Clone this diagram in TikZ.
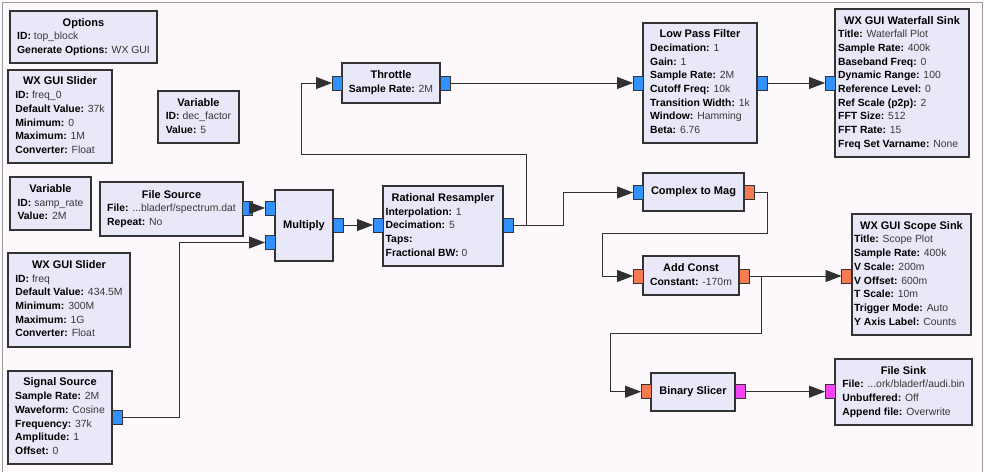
\documentclass[tikz,border=0pt]{standalone}
\usepackage{fontspec}
\setmainfont{Liberation Sans}
\usetikzlibrary{arrows.meta}
\definecolor{bgc}{HTML}{FCF8FC}
\definecolor{blkfill}{HTML}{E9E8F9}
\definecolor{bordc}{HTML}{333333}
\definecolor{wirec}{HTML}{303030}
\definecolor{valc}{HTML}{383838}
\definecolor{pblue}{HTML}{3391FF}
\definecolor{porange}{HTML}{F77A52}
\definecolor{pmag}{HTML}{F444F4}
\definecolor{framec}{HTML}{9A9A9A}
\newcommand{\kv}[2]{\textbf{#1:} {\color{valc}#2}}
\newcommand{\ttl}[1]{\multicolumn{1}{c}{\fontsize{11}{13.7}\selectfont\bfseries #1}}
\newcommand{\tb}[1]{\begin{tabular}{@{}l@{}}#1\end{tabular}}
\begin{document}
\begin{tikzpicture}[x=1pt,y=-1pt,
  blk/.style={draw=bordc,fill=blkfill,line width=1.1pt,inner sep=0pt,outer sep=0pt,anchor=north west,
    font=\fontsize{10.4}{13.7}\selectfont},
  port/.style={draw=bordc,line width=0.8pt,minimum width=10,minimum height=14,inner sep=0pt,outer sep=0pt},
  wire/.style={draw=wirec,line width=0.9pt,-{Triangle[length=16pt,width=12pt]}},
  frame/.style={draw=framec,line width=1pt}]
\fill[bgc] (0,0) rectangle (984,472);
\useasboundingbox (0,0) rectangle (984,472);
\draw[frame] (2.5,472) -- (2.5,2) -- (982,2) -- (982,472);

% blocks
\node[blk,minimum width=147,minimum height=52] (opt) at (10,11)
  {\tb{\ttl{Options}\\\kv{ID}{top\_block}\\\kv{Generate Options}{WX GUI}}};
\node[blk,minimum width=104,minimum height=93] (sl0) at (8,70)
  {\tb{\ttl{WX GUI Slider}\\\kv{ID}{freq\_0}\\\kv{Default Value}{37k}\\\kv{Minimum}{0}\\\kv{Maximum}{1M}\\\kv{Converter}{Float}}};
\node[blk,minimum width=81,minimum height=52] (vdec) at (158,91)
  {\tb{\ttl{Variable}\\\kv{ID}{dec\_factor}\\\kv{Value}{5}}};
\node[blk,minimum width=81,minimum height=53] (vsr) at (10,177)
  {\tb{\ttl{Variable}\\\kv{ID}{samp\_rate}\\\kv{Value}{2M}}};
\node[blk,minimum width=143,minimum height=54] (fs) at (100,182)
  {\tb{\ttl{File Source}\\\kv{File}{...bladerf/spectrum.dat}\\\kv{Repeat}{No}}};
\node[blk,minimum width=58,minimum height=71] (mul) at (275,190)
  {\tb{\ttl{Multiply}}};
\node[blk,minimum width=120,minimum height=80] (rr) at (383,186)
  {\tb{\ttl{Rational Resampler}\\\kv{Interpolation}{1}\\\kv{Decimation}{5}\\\textbf{Taps:}\\\kv{Fractional BW}{0}}};
\node[blk,minimum width=98,minimum height=40] (thr) at (342,63)
  {\tb{\ttl{Throttle}\\\kv{Sample Rate}{2M}}};
\node[blk,minimum width=114,minimum height=120] (lpf) at (643,23)
  {\tb{\ttl{Low Pass Filter}\\\kv{Decimation}{1}\\\kv{Gain}{1}\\\kv{Sample Rate}{2M}\\\kv{Cutoff Freq}{10k}\\\kv{Transition Width}{1k}\\\kv{Window}{Hamming}\\\kv{Beta}{6.76}}};
\node[blk,minimum width=134,minimum height=148] (wf) at (835,9)
  {\tb{\ttl{WX GUI Waterfall Sink}\\\kv{Title}{Waterfall Plot}\\\kv{Sample Rate}{400k}\\\kv{Baseband Freq}{0}\\\kv{Dynamic Range}{100}\\\kv{Reference Level}{0}\\\kv{Ref Scale (p2p)}{2}\\\kv{FFT Size}{512}\\\kv{FFT Rate}{15}\\\kv{Freq Set Varname}{None}}};
\node[blk,minimum width=122,minimum height=94] (sl1) at (8,253)
  {\tb{\ttl{WX GUI Slider}\\\kv{ID}{freq}\\\kv{Default Value}{434.5M}\\\kv{Minimum}{300M}\\\kv{Maximum}{1G}\\\kv{Converter}{Float}}};
\node[blk,minimum width=104,minimum height=93] (sig) at (8,371)
  {\tb{\ttl{Signal Source}\\\kv{Sample Rate}{2M}\\\kv{Waveform}{Cosine}\\\kv{Frequency}{37k}\\\kv{Amplitude}{1}\\\kv{Offset}{0}}};
\node[blk,minimum width=101,minimum height=38] (c2m) at (643,173)
  {\tb{\ttl{Complex to Mag}}};
\node[blk,minimum width=96,minimum height=39] (ac) at (643,256)
  {\tb{\ttl{Add Const}\\\kv{Constant}{-170m}}};
\node[blk,minimum width=119,minimum height=121] (sc) at (852,214)
  {\tb{\ttl{WX GUI Scope Sink}\\\kv{Title}{Scope Plot}\\\kv{Sample Rate}{400k}\\\kv{V Scale}{200m}\\\kv{V Offset}{600m}\\\kv{T Scale}{10m}\\\kv{Trigger Mode}{Auto}\\\kv{Y Axis Label}{Counts}}};
\node[blk,minimum width=84,minimum height=38] (bs) at (651,373)
  {\tb{\ttl{Binary Slicer}}};
\node[blk,minimum width=137,minimum height=66] (fk) at (835,359)
  {\tb{\ttl{File Sink}\\\kv{File}{...ork/bladerf/audi.bin}\\\kv{Unbuffered}{Off}\\\kv{Append file}{Overwrite}}};

% ports
\node[port,fill=pblue] (fsO) at (247.5,208) {};
\node[port,fill=pblue] (mulI1) at (270,208) {};
\node[port,fill=pblue] (mulI2) at (270,242.5) {};
\node[port,fill=pblue] (mulO) at (338,225) {};
\node[port,fill=pblue] (rrI) at (378,225) {};
\node[port,fill=pblue] (rrO) at (508,225) {};
\node[port,fill=pblue] (thrI) at (337,83) {};
\node[port,fill=pblue] (thrO) at (445.5,83) {};
\node[port,fill=pblue] (lpfI) at (638,83) {};
\node[port,fill=pblue] (lpfO) at (762.5,83) {};
\node[port,fill=pblue] (wfI) at (830,83) {};
\node[port,fill=pblue] (sigO) at (117.5,417.5) {};
\node[port,fill=pblue] (c2mI) at (638,192.5) {};
\node[port,fill=porange] (c2mO) at (749.5,192.5) {};
\node[port,fill=porange] (acI) at (638,276) {};
\node[port,fill=porange] (acO) at (744,276) {};
\node[port,fill=porange] (scI) at (846.5,276) {};
\node[port,fill=porange] (bsI) at (646,391.7) {};
\node[port,fill=pmag] (bsO) at (740,391.7) {};
\node[port,fill=pmag] (fkI) at (830,391.7) {};

% junction coordinates
\coordinate (j1) at (526,154.3);
\coordinate (j2) at (301,154.3);
\coordinate (j3) at (563,225);
\coordinate (j4) at (767.3,233.3);
\coordinate (j5) at (602,233.3);
\coordinate (j6) at (761.7,333.3);
\coordinate (j7) at (610.7,333.3);
\coordinate (j8) at (179.3,417.5);

% wires
\draw[wire] (fsO) -- (mulI1);
\draw[wire] (sigO.east) -- (j8) |- (mulI2.west);
\draw[wire] (mulO) -- (rrI);
\draw[wire] (rrO.east) -| (j1) -- (j2) |- (thrI.west);
\draw[wire] (rrO.east) -- (j3) |- (c2mI.west);
\draw[wire] (thrO) -- (lpfI);
\draw[wire] (lpfO) -- (wfI);
\draw[wire] (c2mO.east) -| (j4) -- (j5) |- (acI.west);
\draw[wire] (acO) -- (scI);
\draw[wire] (acO.east) -| (j6) -- (j7) |- (bsI.west);
\draw[wire] (bsO) -- (fkI);
\end{tikzpicture}
\end{document}
